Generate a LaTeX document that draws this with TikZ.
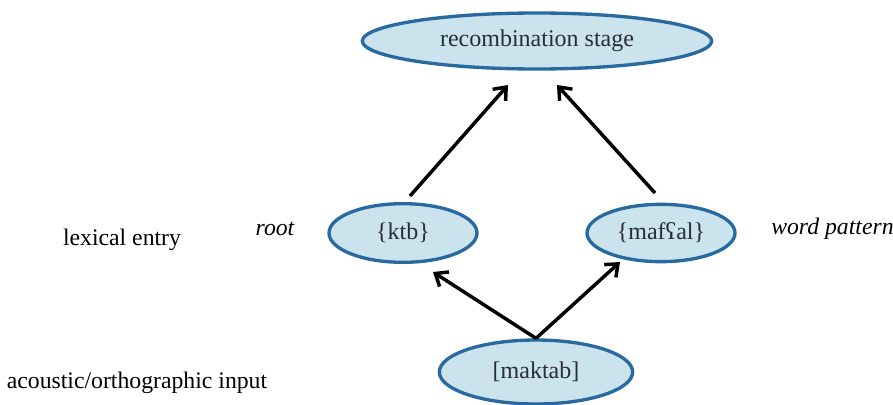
\documentclass[tikz,border=0pt]{standalone}
\usepackage{fontspec}
\setmainfont{Liberation Serif}
\usetikzlibrary{shapes.geometric,arrows.meta}

\definecolor{ovalfill}{RGB}{203,227,237}
\definecolor{ovaldraw}{RGB}{40,105,160}
\definecolor{ovaltext}{RGB}{40,45,60}

\tikzset{
  oval/.style={ellipse,draw=ovaldraw,fill=ovalfill,line width=2.5pt,inner sep=0pt,
    text=ovaltext,font=\fontsize{18}{21}\selectfont},
  lbl/.style={font=\fontsize{17.8}{21}\selectfont,inner sep=0pt},
  arr/.style={line width=2.6pt,-{Straight Barb[length=8pt,width=13pt,line width=2.6pt]}}
}

\begin{document}
\begin{tikzpicture}[x=0.75pt,y=0.75pt,yscale=-1,xscale=1]
\useasboundingbox (0,0) rectangle (893,404);

%Shape: Ellipse [id:recomb]
\node [oval,minimum width=262pt,minimum height=42pt] (recomb) at (537,41) {\raisebox{2pt}{recombination stage}};
%Shape: Ellipse [id:ktb]
\node [oval,minimum width=111pt,minimum height=44pt] (ktb) at (403,233) {\raisebox{3pt}{\{ktb\}}};
%Shape: Ellipse [id:mafal]
\node [oval,minimum width=111pt,minimum height=43pt] (mafal) at (661,233) {\raisebox{3pt}{\{mafʕal\}}};
%Shape: Ellipse [id:maktab]
\node [oval,minimum width=145pt,minimum height=48pt] (maktab) at (536,372) {[maktab]};

% Text Node
\node [lbl] (lexical) at (122,240) {lexical entry};
% Text Node
\node [lbl] (input) at (137,383) {acoustic/orthographic input};
% Text Node
\node [lbl,font=\fontsize{17.8}{21}\selectfont\itshape] (root) at (275,229) {root};
% Text Node
\node [lbl,font=\fontsize{17.8}{21}\selectfont\itshape,anchor=west] (pattern) at (771,229) {word pattern};

% arrow ends
\coordinate (ktbtop) at (410,196);
\coordinate (mafaltop) at (655,193);
\coordinate (recleft) at (508,85);
\coordinate (recright) at (557,85);
\coordinate (ktbbot) at (433,272);
\coordinate (mafalbot) at (620,262);

%Straight Lines [id:arrows]
\draw [arr] (ktbtop) -- (recleft);
\draw [arr] (mafaltop) -- (recright);
\draw [arr] (maktab.north) -- (ktbbot);
\draw [arr] (maktab.north) -- (mafalbot);

\end{tikzpicture}
\end{document}
